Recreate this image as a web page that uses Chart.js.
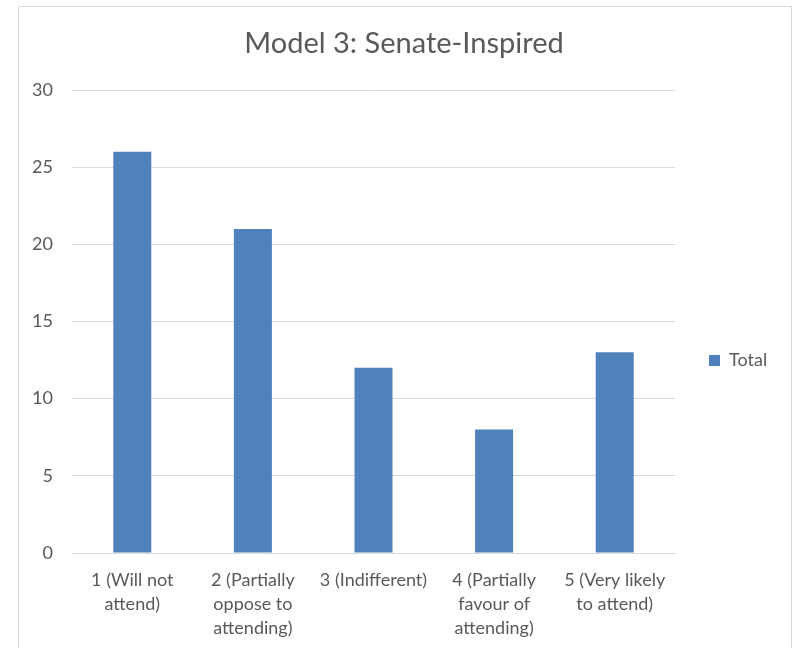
<!DOCTYPE html>
<html>
<head>
<meta charset="utf-8">
<script src="https://cdn.jsdelivr.net/npm/chart.js@4/dist/chart.umd.min.js"></script>
<style>
  html, body { margin: 0; padding: 0; background: #ffffff; }
  #frame { position: absolute; left: 18px; top: 6px; width: 772px; height: 700px;
           border: 1px solid #d9d9d9; border-bottom: none; }
  #wrap { position: absolute; left: 0; top: 0; width: 794px; height: 648px; }
</style>
</head>
<body>
<div id="frame"></div>
<div id="wrap"><canvas id="c"></canvas></div>
<script>
const titleText = 'Model 3: Senate-Inspired';
const categories = [
  ['1 (Will not', 'attend)'],
  ['2 (Partially', 'oppose to', 'attending)'],
  ['3 (Indifferent)'],
  ['4 (Partially', 'favour of', 'attending)'],
  ['5 (Very likely', 'to attend)']
];
const seriesName = 'Total';
const totalValues = [26, 21, 12, 8, 13];
const yTicks = [0, 5, 10, 15, 20, 25, 30];

const FONT = 'Lato';
const TXT = '#595959';
const GRID = '#d9d9d9';
const BAR = '#4f81bd';
const FS = 18;

// layout helpers
const mctx = document.createElement('canvas').getContext('2d');
mctx.font = FS + 'px ' + FONT;
const legendTextW = mctx.measureText(seriesName).width;
const legendPad = 34, boxW = 11;
const legendW = legendPad + boxW + FS / 2 + legendTextW + 10;
const plotLeft = 72, plotRight = 675, titleCenter = 404;
const padR = (794 - plotRight) - legendW;
const padL = 2 * titleCenter - 794 + padR;
const yAxisW = plotLeft - padL;

new Chart(document.getElementById('c'), {
  type: 'bar',
  data: {
    labels: categories,
    datasets: [{
      label: seriesName,
      data: totalValues,
      backgroundColor: BAR,
      borderWidth: 0,
      categoryPercentage: 1,
      barPercentage: 0.315
    }]
  },
  options: {
    responsive: true,
    maintainAspectRatio: false,
    animation: false,
    layout: { padding: { left: padL, right: padR, top: 0, bottom: 0 } },
    plugins: {
      title: {
        display: true,
        text: titleText,
        color: TXT,
        font: { family: FONT, size: 29, weight: 'normal', lineHeight: 1.2 },
        padding: { top: 26.6, bottom: 28.6 }
      },
      legend: {
        display: true,
        position: 'right',
        align: 'center',
        title: { display: true, text: '', font: { size: 10, lineHeight: 1 }, padding: { top: 63, bottom: 0 } },
        labels: {
          color: TXT,
          font: { family: FONT, size: FS },
          boxWidth: boxW,
          boxHeight: boxW,
          padding: legendPad
        }
      },
      tooltip: { enabled: false }
    },
    scales: {
      x: {
        grid: { display: false, drawTicks: false },
        border: { display: true, color: GRID, width: 1 },
        ticks: {
          color: TXT,
          font: { family: FONT, size: FS, lineHeight: 24 / FS },
          padding: 15,
          maxRotation: 0,
          minRotation: 0,
          autoSkip: false
        },
        afterFit: (s) => { s.height = 95; }
      },
      y: {
        min: 0,
        max: 30,
        afterBuildTicks: (s) => { s.ticks = yTicks.map(v => ({ value: v })); },
        grid: { color: GRID, lineWidth: 1, drawTicks: false },
        border: { display: false },
        ticks: {
          color: TXT,
          font: { family: FONT, size: FS },
          padding: 19
        },
        afterFit: (s) => { s.width = yAxisW; }
      }
    }
  }
});
</script>
</body>
</html>
